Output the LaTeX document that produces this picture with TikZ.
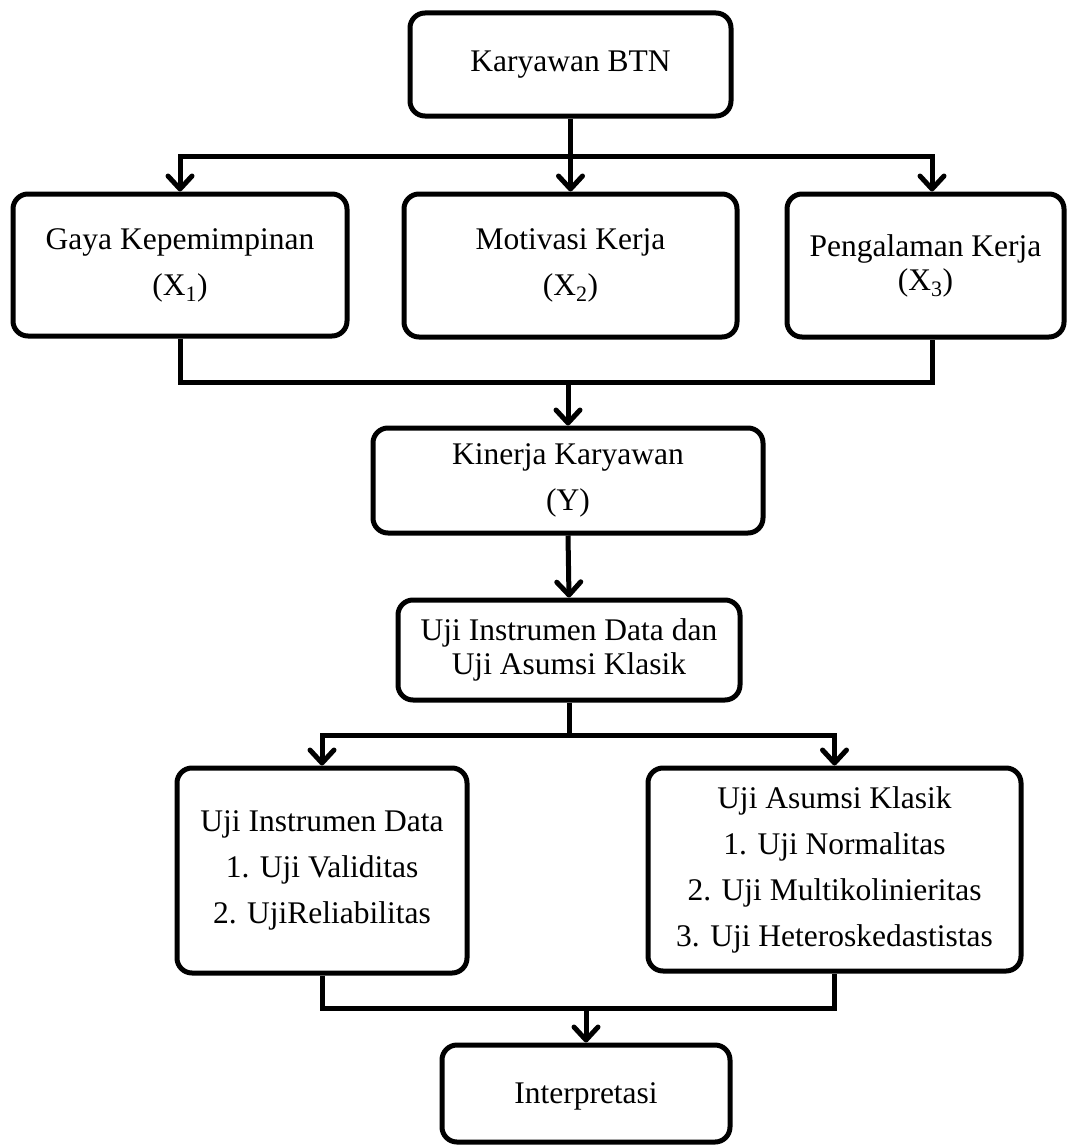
\documentclass[tikz,border=0pt]{standalone}
\usepackage{fontspec}
\setmainfont{Liberation Serif}
\usetikzlibrary{arrows.meta}
\begin{document}
\begin{tikzpicture}[x=1pt,y=-1pt,
  box/.style={draw, line width=5pt, rounded corners=15pt, inner sep=0pt, align=center,
              font=\fontsize{31.5}{46}\selectfont},
  tight/.style={font=\fontsize{31.5}{34}\selectfont},
  conn/.style={line width=5pt},
  arr/.style={line width=5pt, -{Straight Barb[length=13pt,width=24pt,line join=round,line cap=round]}}]
\useasboundingbox (0,0) rectangle (1067,1148);

\node[box, minimum width=321pt, minimum height=103pt] (btn) at (570.5,64.5) {Karyawan BTN};
\node[box, minimum width=334pt, minimum height=142pt] (gaya) at (180,265) {Gaya Kepemimpinan\\(X\textsubscript{1})};
\node[box, minimum width=333pt, minimum height=143pt] (motiv) at (570.5,265.5) {Motivasi Kerja\\(X\textsubscript{2})};
\node[box, tight, minimum width=277pt, minimum height=143pt] (peng) at (925.5,265.5) {Pengalaman Kerja\\(X\textsubscript{3})};
\node[box, minimum width=390pt, minimum height=105pt] (kin) at (568,480.5) {Kinerja Karyawan\\(Y)};
\node[box, tight, minimum width=342pt, minimum height=100pt] (uji) at (569,650) {Uji Instrumen Data dan\\Uji Asumsi Klasik};
\node[box, minimum width=290pt, minimum height=205pt] (ins) at (322,870.5) {Uji Instrumen Data\\1. Uji Validitas\\2. UjiReliabilitas};
\node[box, minimum width=373pt, minimum height=203pt] (asm) at (834.5,869.5) {Uji Asumsi Klasik\\1. Uji Normalitas\\2. Uji Multikolinieritas\\3. Uji Heteroskedastistas};
\node[box, text depth=0pt, minimum width=288pt, minimum height=97pt] (interp) at (586,1093.5) {Interpretasi};

\coordinate (j1) at (570.5,156);
\coordinate (j2) at (568,382);
\coordinate (j3) at (569,735);
\coordinate (j4) at (586,1008);

\draw[arr] (btn.south) -- (motiv.north);
\draw[arr] (j1) -| (gaya.north);
\draw[arr] (j1) -| ([xshift=6.5pt]peng.north);

\draw[conn] (gaya.south) |- (j2) -| ([xshift=6.5pt]peng.south);
\draw[arr] (j2) -- (kin.north);

\draw[arr] (kin.south) -- (uji.north);

\draw[conn] (uji.south) -- (j3);
\draw[arr] (j3) -| (ins.north);
\draw[arr] (j3) -| (asm.north);

\draw[conn] (ins.south) |- (j4) -| (asm.south);
\draw[arr] (j4) -- (interp.north);
\end{tikzpicture}
\end{document}
